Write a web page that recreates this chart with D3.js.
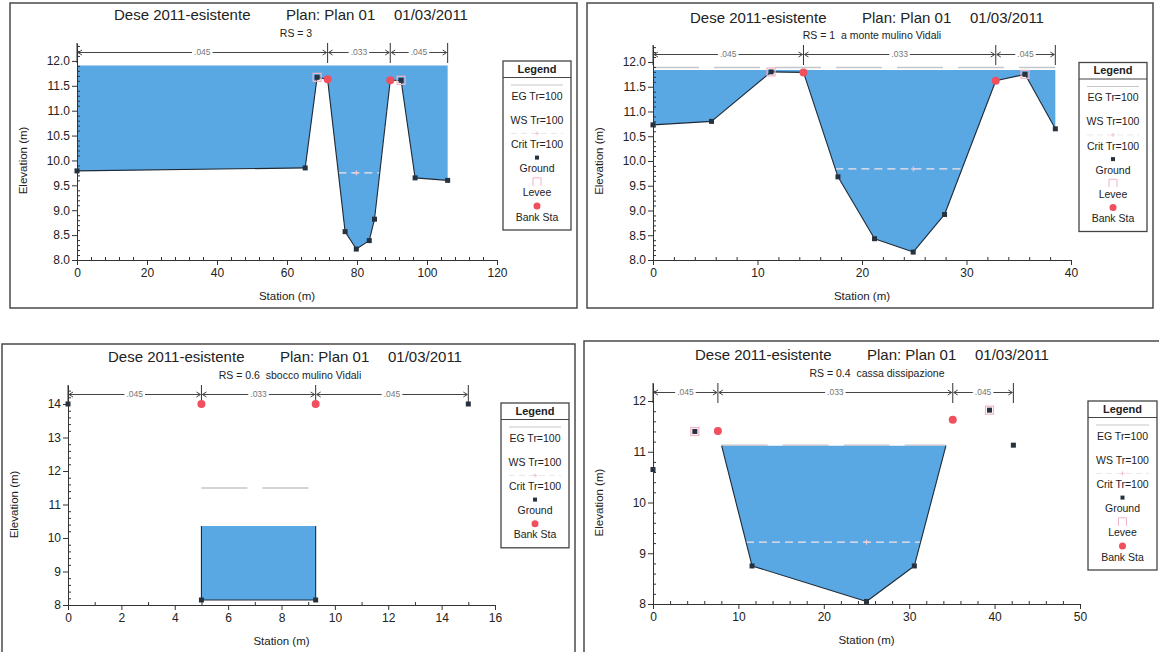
<!DOCTYPE html>
<html><head><meta charset="utf-8">
<script src="https://cdn.jsdelivr.net/npm/d3@7"></script>
<style>
body{margin:0;background:#fff;}
svg{display:block;font-family:"Liberation Sans",Arial,sans-serif;}
text{white-space:pre;}
</style></head><body>
<svg id="chart" width="1159" height="652"></svg>
<script>
// ---- Shared text ----
const titleParts = ["Dese 2011-esistente", "Plan: Plan 01", "01/03/2011"];
const legendAll = ["EG Tr=100", "WS Tr=100", "Crit Tr=100", "Ground", "Levee", "Bank Sta"];
const legendNoLevee = ["EG Tr=100", "WS Tr=100", "Crit Tr=100", "Ground", "Bank Sta"];

// ---- RS = 3 ----
const rs3Label = "RS = 3";
const rs3Station = [0, 65.2, 68.6, 71.6, 76.6, 79.8, 83.5, 85.0, 89.5, 92.6, 96.6, 105.9];
const rs3Ground  = [9.79, 9.85, 11.67, 11.63, 8.57, 8.22, 8.39, 8.82, 11.61, 11.61, 9.65, 9.60];
const rs3Bank = [71.6, 89.5];
const rs3Levee = [68.6, 92.6];
const rs3N = [".045", ".033", ".045"];
const rs3WS = 11.91, rs3EG = null, rs3Crit = 9.75;
const rs3XTicks = [0, 20, 40, 60, 80, 100, 120];
const rs3YTicks = [8.0, 8.5, 9.0, 9.5, 10.0, 10.5, 11.0, 11.5, 12.0];

// ---- RS = 1 ----
const rs1Label = "RS = 1  a monte mulino Vidali";
const rs1Station = [0, 5.6, 11.3, 14.4, 17.7, 21.2, 24.9, 27.9, 32.8, 35.6, 38.5];
const rs1Ground  = [10.73, 10.80, 11.80, 11.79, 9.68, 8.43, 8.16, 8.92, 11.62, 11.75, 10.65];
const rs1Bank = [14.4, 32.8];
const rs1Levee = [11.3, 35.6];
const rs1N = [".045", ".033", ".045"];
const rs1WS = 11.84, rs1EG = 11.89, rs1Crit = 9.84;
const rs1XTicks = [0, 10, 20, 30, 40];
const rs1YTicks = [8.0, 8.5, 9.0, 9.5, 10.0, 10.5, 11.0, 11.5, 12.0];

// ---- RS = 0.6 ----
const rs06Label = "RS = 0.6  sbocco mulino Vidali";
const rs06Station = [0, 5.0, 5.0, 9.28, 9.28, 15.0];
const rs06Ground  = [14.0, 14.0, 8.15, 8.15, 14.0, 14.0];
const rs06Bank = [5.0, 9.28];
const rs06Levee = [];
const rs06N = [".045", ".033", ".045"];
const rs06WS = 10.36, rs06EG = 11.49, rs06Crit = null;
const rs06XTicks = [0, 2, 4, 6, 8, 10, 12, 14, 16];
const rs06YTicks = [8, 9, 10, 11, 12, 13, 14];

// ---- RS = 0.4 ----
const rs04Label = "RS = 0.4  cassa dissipazione";
const rs04Station = [0, 4.9, 7.6, 11.6, 25.0, 30.6, 35.1, 39.4, 42.2];
const rs04Ground  = [10.65, 11.40, 11.41, 8.75, 8.05, 8.75, 11.63, 11.82, 11.13];
const rs04Bank = [7.6, 35.1];
const rs04Levee = [4.9, 39.4];
const rs04N = [".045", ".033", ".045"];
const rs04WS = 11.12, rs04EG = 11.13, rs04Crit = 9.22;
const rs04XTicks = [0, 10, 20, 30, 40, 50];
const rs04YTicks = [8, 9, 10, 11, 12];

// ---- Panel layout ----
const panels = [
  { label: rs3Label, st: rs3Station, gr: rs3Ground, bank: rs3Bank, levee: rs3Levee, n: rs3N,
    ws: rs3WS, eg: rs3EG, crit: rs3Crit, xTicks: rs3XTicks, yTicks: rs3YTicks, legend: legendAll,
    frame: [10, 3, 577, 308], xr: [77, 497], yr: [260, 43], yTopVal: 12.36, xMinor: 4, yMinor: 0.1, yFmt: ".1f",
    tc: 291, tY: 20, sY: 36.5, lg: { x: 503, y: 61, w: 68 } },
  { label: rs1Label, st: rs1Station, gr: rs1Ground, bank: rs1Bank, levee: rs1Levee, n: rs1N,
    ws: rs1WS, eg: rs1EG, crit: rs1Crit, xTicks: rs1XTicks, yTicks: rs1YTicks, legend: legendAll,
    frame: [587, 3, 1153, 308], xr: [653, 1071], yr: [260, 45], yTopVal: 12.343, xMinor: 2, yMinor: 0.1, yFmt: ".1f",
    tc: 867, tY: 22.5, sY: 38.8, lg: { x: 1079, y: 62.5, w: 68 } },
  { label: rs06Label, st: rs06Station, gr: rs06Ground, bank: rs06Bank, levee: rs06Levee, n: rs06N,
    ws: rs06WS, eg: rs06EG, crit: rs06Crit, xTicks: rs06XTicks, yTicks: rs06YTicks, legend: legendNoLevee,
    frame: [2, 344, 575, 668], xr: [68, 495], yr: [605, 385], yTopVal: 14.567, xMinor: 1, yMinor: 0.2, yFmt: "d",
    tc: 285, tY: 362, sY: 378.8, lg: { x: 501, y: 403, w: 68 } },
  { label: rs04Label, st: rs04Station, gr: rs04Ground, bank: rs04Bank, levee: rs04Levee, n: rs04N,
    ws: rs04WS, eg: rs04EG, crit: rs04Crit, xTicks: rs04XTicks, yTicks: rs04YTicks, legend: legendAll,
    frame: [584, 341, 1175, 668], xr: [653, 1080], yr: [604, 383], yTopVal: 12.355, xMinor: 2, yMinor: 0.2, yFmt: "d",
    tc: 872, tY: 360, sY: 376.5, lg: { x: 1088, y: 401, w: 69 } }
];

const WATER = "#59a8e4", GROUND = "#1f2a36", BANK = "#f0505e", LEVEE = "#f2b3c3", AX = "#333", TXT = "#222";
const EGC = "#c3c7cb", CRITC = "#f4e4e8";
const svg = d3.select("#chart");

function groundAt(st, gr, x) {
  const i = st.indexOf(x);
  return i >= 0 ? gr[i] : null;
}

// polygon of the wetted area: bottom follows ground (capped at WS), top follows WS
function waterPolygon(pts, ws) {
  const out = [];
  pts.forEach((p, i) => {
    if (i > 0) {
      const q = pts[i - 1];
      if ((q[1] - ws) * (p[1] - ws) < 0) {
        const t = (ws - q[1]) / (p[1] - q[1]);
        out.push([q[0] + t * (p[0] - q[0]), ws]);
      }
    }
    out.push([p[0], Math.min(p[1], ws)]);
  });
  out.push([pts[pts.length - 1][0], ws]);
  out.push([pts[0][0], ws]);
  return out;
}

// ground segments lying below the water surface
function wetSegments(pts, ws) {
  const segs = [];
  for (let i = 1; i < pts.length; i++) {
    let a = pts[i - 1].slice(), b = pts[i].slice();
    if (a[1] > ws && b[1] > ws) continue;
    if (a[1] > ws) { const t = (ws - a[1]) / (b[1] - a[1]); a = [a[0] + t * (b[0] - a[0]), ws]; }
    if (b[1] > ws) { const t = (ws - a[1]) / (b[1] - a[1]); b = [a[0] + t * (b[0] - a[0]), ws]; }
    if (a[0] === b[0] && a[1] === b[1]) continue;
    segs.push([a, b]);
  }
  return segs;
}

// extent of a horizontal level around the thalweg, bounded by the ground
function levelExtent(st, gr, level) {
  let k = gr.indexOf(d3.min(gr));
  let l = k, r = k;
  while (l > 0 && gr[l - 1] < level) l--;
  while (r < gr.length - 1 && gr[r + 1] < level) r++;
  let xl = st[l], xr = st[r];
  if (l > 0) { const t = (level - gr[l - 1]) / (gr[l] - gr[l - 1]); xl = st[l - 1] + t * (st[l] - st[l - 1]); }
  if (r < gr.length - 1) { const t = (level - gr[r]) / (gr[r + 1] - gr[r]); xr = st[r] + t * (st[r + 1] - st[r]); }
  return [xl, xr, st[k]];
}

panels.forEach(p => {
  const g = svg.append("g");
  const [fx0, fy0, fx1, fy1] = p.frame;
  g.append("rect").attr("x", fx0).attr("y", fy0).attr("width", fx1 - fx0).attr("height", fy1 - fy0)
    .attr("fill", "#fff").attr("stroke", "#4a4a4a").attr("stroke-width", 1.5);

  const xMax = p.xTicks[p.xTicks.length - 1];
  const x = d3.scaleLinear().domain([0, xMax]).range(p.xr);
  const y = d3.scaleLinear().domain([8, p.yTopVal]).range(p.yr);

  // titles
  [-177, -5, 103].forEach((dx, i) => {
    g.append("text").attr("x", p.tc + dx).attr("y", p.tY).attr("font-size", 15).attr("fill", TXT).text(titleParts[i]);
  });
  g.append("text").attr("x", p.tc + 5).attr("y", p.sY).attr("font-size", 10.5).attr("text-anchor", "middle")
    .attr("fill", TXT).text(p.label);

  // water
  const pts = p.st.map((s, i) => [s, p.gr[i]]);
  let xa = d3.min(p.st), xb = d3.max(p.st);
  if (p.levee.length === 2) {
    const le = p.levee.map(s => groundAt(p.st, p.gr, s));
    if (p.ws < d3.min(le)) { xa = p.levee[0]; xb = p.levee[1]; }
  }
  const wpts = pts.filter(q => q[0] >= xa && q[0] <= xb);
  const poly = waterPolygon(wpts, p.ws);
  g.append("path").attr("d", d3.line().x(d => x(d[0])).y(d => y(d[1]))(poly) + "Z")
    .attr("fill", WATER).attr("stroke", "none");

  const segs = wetSegments(wpts, p.ws);
  const wetX = d3.extent(segs.flat(), d => d[0]);

  // energy grade line
  if (p.eg !== null) {
    g.append("line").attr("x1", x(wetX[0])).attr("x2", x(wetX[1])).attr("y1", y(p.eg)).attr("y2", y(p.eg))
      .attr("stroke", EGC).attr("stroke-width", 1.5).attr("stroke-dasharray", "46,15");
  }

  // critical depth line
  if (p.crit !== null) {
    const [cl, cr, cm] = levelExtent(p.st, p.gr, p.crit);
    g.append("line").attr("x1", x(cl)).attr("x2", x(cr)).attr("y1", y(p.crit)).attr("y2", y(p.crit))
      .attr("stroke", CRITC).attr("stroke-width", 1.2).attr("stroke-dasharray", "8,5");
    g.append("path").attr("d", `M${x(cm) - 2.5},${y(p.crit)}h5M${x(cm)},${y(p.crit) - 2.5}v5`)
      .attr("stroke", "#f4cbd4").attr("stroke-width", 1);
  }

  // ground line (wetted part)
  segs.forEach(s => {
    g.append("line").attr("x1", x(s[0][0])).attr("y1", y(s[0][1])).attr("x2", x(s[1][0])).attr("y2", y(s[1][1]))
      .attr("stroke", GROUND).attr("stroke-width", 1.1);
  });

  // axes
  const ya = d3.axisLeft(y).tickValues(p.yTicks).tickSize(5).tickSizeOuter(0).tickPadding(2).tickFormat(d3.format(p.yFmt));
  const yg = g.append("g").attr("transform", `translate(${p.xr[0]},0)`).call(ya);
  const yMinorVals = d3.range(8, p.yTopVal + 1e-9, p.yMinor).filter(v => !p.yTicks.some(t => Math.abs(t - v) < 1e-6));
  g.append("g").attr("transform", `translate(${p.xr[0]},0)`)
    .call(d3.axisLeft(y).tickValues(yMinorVals).tickSize(-3).tickFormat("")).select(".domain").remove();
  const xa2 = d3.axisBottom(x).tickValues(p.xTicks).tickSize(5).tickSizeOuter(0).tickPadding(3);
  const xg = g.append("g").attr("transform", `translate(0,${p.yr[0]})`).call(xa2);
  const xMinorVals = d3.range(0, xMax + 1e-9, p.xMinor).filter(v => !p.xTicks.includes(v));
  g.append("g").attr("transform", `translate(0,${p.yr[0]})`)
    .call(d3.axisBottom(x).tickValues(xMinorVals).tickSize(-3).tickFormat("")).select(".domain").remove();
  g.selectAll(".tick line, .domain").attr("stroke", AX);
  [yg, xg].forEach(a => a.selectAll("text").attr("font-size", 12).attr("fill", TXT)
    .attr("font-family", '"Liberation Sans",Arial,sans-serif'));

  g.append("text").attr("transform", `translate(${p.xr[0] - 54},${(y(8) + y(p.yTicks[p.yTicks.length - 1])) / 2}) rotate(-90)`)
    .attr("text-anchor", "middle").attr("dy", "0.35em").attr("font-size", 11.5).attr("fill", TXT).text("Elevation (m)");
  g.append("text").attr("x", (p.xr[0] + p.xr[1]) / 2).attr("y", p.yr[0] + 36).attr("dy", "0.35em")
    .attr("text-anchor", "middle").attr("font-size", 11.5).attr("fill", TXT).text("Station (m)");

  // Manning's n zones
  const breaks = [d3.min(p.st), p.bank[0], p.bank[1], d3.max(p.st)];
  const top = p.yr[1], hy = top + 9.5;
  breaks.forEach(b => g.append("line").attr("x1", x(b)).attr("x2", x(b)).attr("y1", top).attr("y2", top + 20)
    .attr("stroke", "#333").attr("stroke-width", 1));
  p.n.forEach((lab, i) => {
    const a = x(breaks[i]) + 1, b = x(breaks[i + 1]) - 1, c = (a + b) / 2;
    const t = g.append("text").attr("x", c).attr("y", hy).attr("dy", "0.35em").attr("text-anchor", "middle")
      .attr("font-size", 8.5).attr("fill", "#777").text(lab);
    const w = t.node().getComputedTextLength() / 2 + 2;
    g.append("line").attr("x1", a).attr("x2", c - w).attr("y1", hy).attr("y2", hy).attr("stroke", "#444");
    g.append("line").attr("x1", c + w).attr("x2", b).attr("y1", hy).attr("y2", hy).attr("stroke", "#444");
    g.append("path").attr("d", `M${a + 4},${hy - 2.5}L${a},${hy}L${a + 4},${hy + 2.5}M${b - 4},${hy - 2.5}L${b},${hy}L${b - 4},${hy + 2.5}`)
      .attr("fill", "none").attr("stroke", "#444");
  });

  // markers
  p.levee.forEach(s => {
    const e = groundAt(p.st, p.gr, s);
    g.append("rect").attr("x", x(s) - 4).attr("y", y(e) - 4).attr("width", 8).attr("height", 8)
      .attr("fill", "none").attr("stroke", LEVEE).attr("stroke-width", 1.2);
  });
  pts.forEach(q => {
    if (p.bank.includes(q[0]) && (q[1] === d3.max(pts.filter(r => r[0] === q[0]), r => r[1]))) return;
    g.append("rect").attr("x", x(q[0]) - 2.5).attr("y", y(q[1]) - 2.5).attr("width", 5).attr("height", 5).attr("fill", "#27323f");
  });
  p.bank.forEach(s => {
    const e = d3.max(pts.filter(r => r[0] === s), r => r[1]);
    g.append("circle").attr("cx", x(s)).attr("cy", y(e)).attr("r", 4).attr("fill", BANK);
  });

  // legend
  const L = p.lg, n = p.legend.length;
  const h = 35 + 24.2 * (n - 1) + 13;
  const lg = g.append("g").attr("transform", `translate(${L.x},${L.y})`);
  lg.append("rect").attr("width", L.w).attr("height", h).attr("fill", "#fff").attr("stroke", "#444").attr("stroke-width", 1.3);
  lg.append("text").attr("x", L.w / 2).attr("y", 8).attr("dy", "0.35em").attr("text-anchor", "middle")
    .attr("font-size", 11).attr("font-weight", "bold").attr("fill", TXT).text("Legend");
  lg.append("line").attr("x1", 0).attr("x2", L.w).attr("y1", 16.5).attr("y2", 16.5).attr("stroke", "#444");
  p.legend.forEach((name, i) => {
    const cy = 35 + 24.2 * i, sy = cy - 11, cx = L.w / 2;
    lg.append("text").attr("x", cx).attr("y", cy).attr("dy", "0.35em").attr("text-anchor", "middle")
      .attr("font-size", 10.5).attr("fill", TXT).text(name);
    if (name.startsWith("EG")) {
      lg.append("line").attr("x1", 8).attr("x2", L.w - 8).attr("y1", sy).attr("y2", sy).attr("stroke", EGC).attr("stroke-width", 1.2);
    } else if (name.startsWith("Crit")) {
      lg.append("line").attr("x1", 8).attr("x2", L.w - 8).attr("y1", sy).attr("y2", sy).attr("stroke", "#eee6e8").attr("stroke-dasharray", "6,4");
      lg.append("path").attr("d", `M${cx - 2},${sy}h4M${cx},${sy - 2}v4`).attr("stroke", "#f2c2cc");
    } else if (name === "Ground") {
      lg.append("rect").attr("x", cx - 2).attr("y", sy - 2).attr("width", 4).attr("height", 4).attr("fill", "#27323f");
    } else if (name === "Levee") {
      lg.append("path").attr("d", `M${cx - 4},${sy + 4}V${sy - 4}H${cx + 4}V${sy + 4}`).attr("fill", "none").attr("stroke", LEVEE);
    } else if (name === "Bank Sta") {
      lg.append("circle").attr("cx", cx).attr("cy", sy).attr("r", 3.5).attr("fill", BANK);
    }
  });
});
</script>
</body></html>
